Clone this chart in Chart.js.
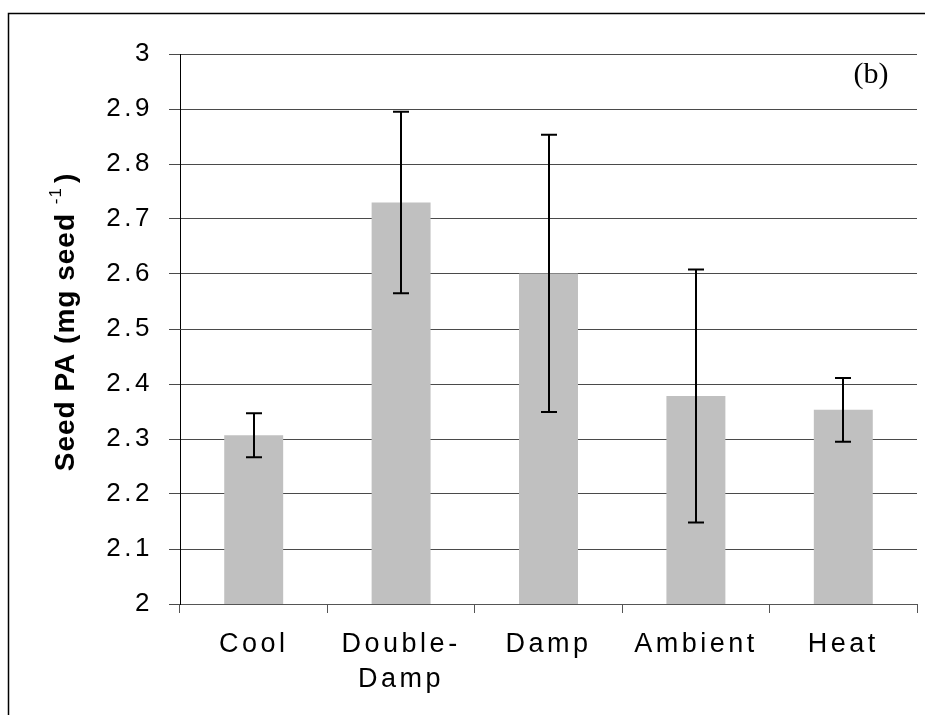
<!DOCTYPE html>
<html>
<head>
<meta charset="utf-8">
<script src="https://cdn.jsdelivr.net/npm/chart.js@4.4.1/dist/chart.umd.min.js"></script>
<style>
  html, body { margin: 0; padding: 0; background: #ffffff; }
  #wrap { width: 925px; height: 715px; }
</style>
</head>
<body>
<div id="wrap"><canvas id="seedChart" width="925" height="715"></canvas></div>
<script>
// Data
const categories = ['Cool', ['Double-', 'Damp'], 'Damp', 'Ambient', 'Heat'];
const seedPA = [2.307, 2.73, 2.601, 2.378, 2.353];
const seedErr = [0.04, 0.165, 0.252, 0.23, 0.058];
const yTicks = [2, 2.1, 2.2, 2.3, 2.4, 2.5, 2.6, 2.7, 2.8, 2.9, 3];

// Spaced-out sans text like the original
const spacingPlugin = {
  id: 'spacing',
  beforeDraw(chart) {
    const ctx = chart.ctx;
    ctx.fillStyle = '#ffffff';
    ctx.fillRect(0, 0, chart.width, chart.height);
    ctx.letterSpacing = '3.5px';
  },
};

// Error bars with caps
const errorBarPlugin = {
  id: 'errorBars',
  afterDatasetsDraw(chart) {
    const ctx = chart.ctx;
    const y = chart.scales.y;
    const meta = chart.getDatasetMeta(0);
    ctx.save();
    ctx.strokeStyle = '#000000';
    ctx.lineWidth = 2;
    meta.data.forEach((bar, i) => {
      const top = y.getPixelForValue(seedPA[i] + seedErr[i]);
      const bot = y.getPixelForValue(seedPA[i] - seedErr[i]);
      const x = Math.round(bar.x);
      ctx.beginPath();
      ctx.moveTo(x, top);
      ctx.lineTo(x, bot);
      ctx.moveTo(x - 8, top);
      ctx.lineTo(x + 8, top);
      ctx.moveTo(x - 8, bot);
      ctx.lineTo(x + 8, bot);
      ctx.stroke();
    });
    ctx.restore();
  },
};

// Frame, axis title with superscript, panel label
const decorPlugin = {
  id: 'decor',
  afterDraw(chart) {
    const ctx = chart.ctx;
    const area = chart.chartArea;
    ctx.save();

    // outer frame (left and top edges visible)
    ctx.letterSpacing = '0px';
    ctx.strokeStyle = '#000000';
    ctx.lineWidth = 1.5;
    ctx.beginPath();
    ctx.moveTo(8.5, chart.height);
    ctx.lineTo(8.5, 13.5);
    ctx.lineTo(chart.width, 13.5);
    ctx.stroke();

    // y axis title
    const boldFont = 'bold 28px "Liberation Sans", Arial, sans-serif';
    const supFont = '17px "Liberation Sans", Arial, sans-serif';
    const main = 'Seed PA (mg seed ';
    ctx.fillStyle = '#000000';
    ctx.letterSpacing = '1px';
    ctx.font = boldFont;
    const wMain = ctx.measureText(main).width;
    ctx.font = supFont;
    const wSup = ctx.measureText('-1').width;
    ctx.font = boldFont;
    const wClose = ctx.measureText(')').width;
    const total = wMain + wSup + wClose + 4;
    const cy = (area.top + area.bottom) / 2 - 7;
    ctx.translate(74, cy);
    ctx.rotate(-Math.PI / 2);
    ctx.textBaseline = 'alphabetic';
    ctx.textAlign = 'left';
    let x0 = -total / 2;
    ctx.fillText(main, x0, 0);
    x0 += wMain;
    ctx.font = supFont;
    ctx.fillText('-1', x0, -13);
    x0 += wSup + 4;
    ctx.font = boldFont;
    ctx.fillText(')', x0, 0);
    ctx.restore();

    // panel label
    ctx.save();
    ctx.letterSpacing = '0px';
    ctx.fillStyle = '#000000';
    ctx.font = '30px "Liberation Serif", "Times New Roman", serif';
    ctx.textAlign = 'center';
    ctx.textBaseline = 'middle';
    ctx.fillText('(b)', 871, 75);
    ctx.restore();
  },
};

document.addEventListener('DOMContentLoaded', () => {
  const ctx = document.getElementById('seedChart');
  new Chart(ctx, {
    type: 'bar',
    data: {
      labels: categories,
      datasets: [
        {
          data: seedPA,
          backgroundColor: '#c0c0c0',
          borderWidth: 0,
          barPercentage: 0.4,
          categoryPercentage: 1.0,
        },
      ],
    },
    options: {
      responsive: false,
      animation: false,
      devicePixelRatio: 1,
      layout: { padding: { left: 0, right: 8, top: 54, bottom: 0 } },
      plugins: {
        legend: { display: false },
        tooltip: { enabled: false },
      },
      scales: {
        x: {
          afterFit(scale) { scale.height = 111; },
          grid: {
            offset: true,
            drawOnChartArea: false,
            drawTicks: true,
            tickLength: 9,
            color: '#555555',
            lineWidth: 1,
          },
          border: { color: '#555555', width: 1 },
          ticks: {
            color: '#000000',
            font: { family: '"Liberation Sans", Arial, sans-serif', size: 27, lineHeight: 1.3 },
            padding: 14,
            maxRotation: 0,
            autoSkip: false,
          },
        },
        y: {
          min: 2,
          max: 3,
          afterFit(scale) { scale.width = 180; },
          afterBuildTicks(scale) {
            scale.ticks = yTicks.map((v) => ({ value: v }));
          },
          grid: {
            color: '#4a4a4a',
            lineWidth: 1,
            tickLength: 11,
          },
          border: { color: '#000000', width: 1 },
          ticks: {
            color: '#000000',
            font: { family: '"Liberation Sans", Arial, sans-serif', size: 26 },
            padding: 16,
            callback: (v) => String(+v.toFixed(1)),
          },
        },
      },
    },
    plugins: [spacingPlugin, errorBarPlugin, decorPlugin],
  });
});
</script>
</body>
</html>
